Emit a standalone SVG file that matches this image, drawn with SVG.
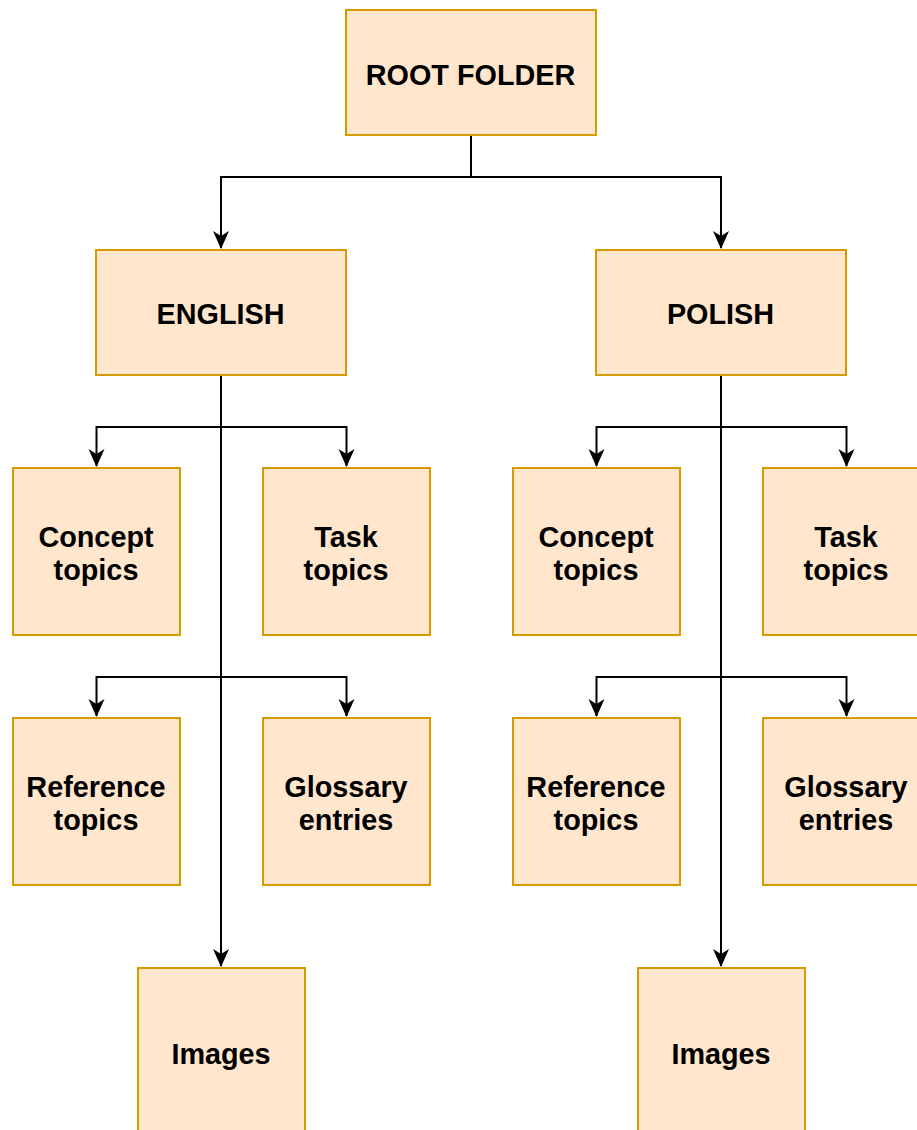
<svg xmlns="http://www.w3.org/2000/svg" width="917" height="1130" viewBox="0 0 917 1130">
<style>
.box{fill:#ffe6cc;stroke:#d79b00;stroke-width:2}
.t{font-family:"Liberation Sans",Arial,sans-serif;font-weight:bold;font-size:28.8px;fill:#000;text-anchor:middle}
.e{fill:none;stroke:#000;stroke-width:2}
</style>
<defs>
<marker id="arr" viewBox="0 0 18 18" refX="17" refY="9" markerWidth="18" markerHeight="18" markerUnits="userSpaceOnUse" orient="auto">
<path d="M0,1 L18,9 L0,17 L5,9 Z" fill="#000"/>
</marker>
</defs>
<rect width="917" height="1130" fill="#fff"/>
<g id="connectors">
<path class="e" d="M471,135 V177 H221 V248" marker-end="url(#arr)"/>
<path class="e" d="M471,135 V177 H721 V248" marker-end="url(#arr)"/>
<path class="e" d="M221,375 V427 H96.5 V466" marker-end="url(#arr)"/>
<path class="e" d="M221,375 V427 H346.5 V466" marker-end="url(#arr)"/>
<path class="e" d="M221,375 V677 H96.5 V716" marker-end="url(#arr)"/>
<path class="e" d="M221,375 V677 H346.5 V716" marker-end="url(#arr)"/>
<path class="e" d="M221,375 V966" marker-end="url(#arr)"/>
<path class="e" d="M721,375 V427 H596.5 V466" marker-end="url(#arr)"/>
<path class="e" d="M721,375 V427 H846.5 V466" marker-end="url(#arr)"/>
<path class="e" d="M721,375 V677 H596.5 V716" marker-end="url(#arr)"/>
<path class="e" d="M721,375 V677 H846.5 V716" marker-end="url(#arr)"/>
<path class="e" d="M721,375 V966" marker-end="url(#arr)"/>
</g>
<g id="root"><rect class="box" x="346" y="10" width="250" height="125"/><text class="t" x="470.5" y="85">ROOT FOLDER</text></g>
<g id="english"><rect class="box" x="96" y="250" width="250" height="125"/><text class="t" x="220.5" y="324">ENGLISH</text></g>
<g id="polish"><rect class="box" x="596" y="250" width="250" height="125"/><text class="t" x="720.5" y="324">POLISH</text></g>
<g id="en-concept"><rect class="box" x="13" y="468" width="167" height="167"/><text class="t" x="96" y="547">Concept</text><text class="t" x="96" y="580">topics</text></g>
<g id="en-task"><rect class="box" x="263" y="468" width="167" height="167"/><text class="t" x="346" y="547">Task</text><text class="t" x="346" y="580">topics</text></g>
<g id="en-reference"><rect class="box" x="13" y="718" width="167" height="167"/><text class="t" x="96" y="797">Reference</text><text class="t" x="96" y="830">topics</text></g>
<g id="en-glossary"><rect class="box" x="263" y="718" width="167" height="167"/><text class="t" x="346" y="797">Glossary</text><text class="t" x="346" y="830">entries</text></g>
<g id="en-images"><rect class="box" x="138" y="968" width="167" height="167"/><text class="t" x="221" y="1064">Images</text></g>
<g id="pl-concept"><rect class="box" x="513" y="468" width="167" height="167"/><text class="t" x="596" y="547">Concept</text><text class="t" x="596" y="580">topics</text></g>
<g id="pl-task"><rect class="box" x="763" y="468" width="167" height="167"/><text class="t" x="846" y="547">Task</text><text class="t" x="846" y="580">topics</text></g>
<g id="pl-reference"><rect class="box" x="513" y="718" width="167" height="167"/><text class="t" x="596" y="797">Reference</text><text class="t" x="596" y="830">topics</text></g>
<g id="pl-glossary"><rect class="box" x="763" y="718" width="167" height="167"/><text class="t" x="846" y="797">Glossary</text><text class="t" x="846" y="830">entries</text></g>
<g id="pl-images"><rect class="box" x="638" y="968" width="167" height="167"/><text class="t" x="721" y="1064">Images</text></g>
</svg>
